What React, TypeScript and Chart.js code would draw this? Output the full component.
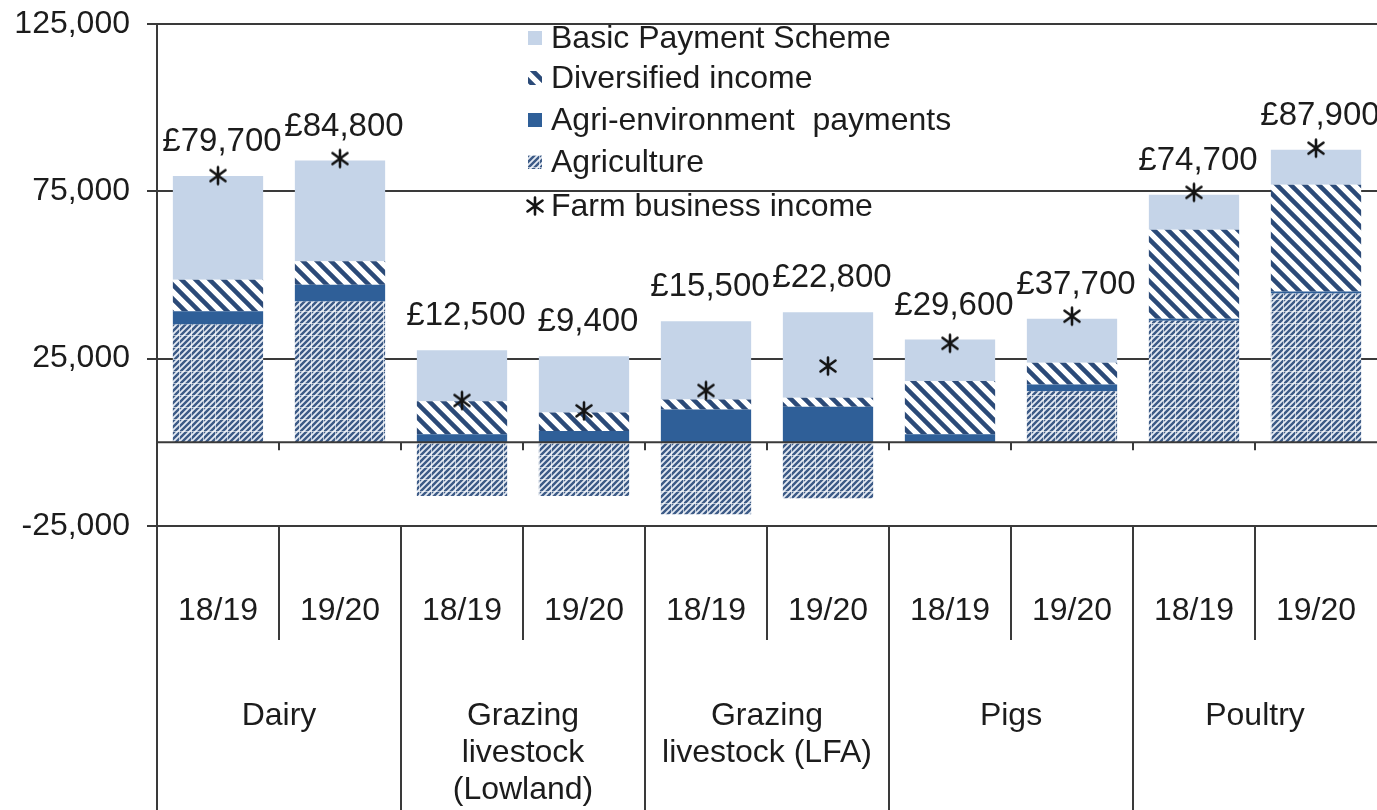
import React, { useEffect, useRef } from "react";
import { Chart, registerables } from "chart.js";

Chart.register(...registerables);

// ---- Data ----
const categories = [
  "Dairy 18/19", "Dairy 19/20",
  "Lowland 18/19", "Lowland 19/20",
  "LFA 18/19", "LFA 19/20",
  "Pigs 18/19", "Pigs 19/20",
  "Poultry 18/19", "Poultry 19/20",
];
const periodLabels = ["18/19", "19/20", "18/19", "19/20", "18/19", "19/20", "18/19", "19/20", "18/19", "19/20"];
const groupLabels: string[][] = [
  ["Dairy"],
  ["Grazing", "livestock", "(Lowland)"],
  ["Grazing", "livestock (LFA)"],
  ["Pigs"],
  ["Poultry"],
];

const agriculture = [35200, 42100, -16000, -16000, -21500, -16700, 0, 15300, 36300, 44500];
const agriEnvironment = [4000, 5000, 2400, 3400, 9800, 10600, 2400, 2000, 600, 600];
const diversified = [9400, 7000, 9900, 5500, 3000, 2700, 15900, 6500, 26600, 31900];
const basicPayment = [31000, 30100, 15200, 16800, 23400, 25600, 12400, 13100, 10500, 10400];
const farmBusinessIncome = [79700, 84800, 12500, 9400, 15500, 22800, 29600, 37700, 74700, 87900];

const legendLabels = [
  "Basic Payment Scheme",
  "Diversified income",
  "Agri-environment  payments",
  "Agriculture",
  "Farm business income",
];

const yMin = -25000;
const yMax = 125000;
const yStep = 50000;

// ---- Styles ----
const FONT = "'Liberation Sans', Arial, sans-serif";
const TEXT = "#1c1c1c";
const LINE = "#3a3a3a";
const BPS_COLOR = "#c5d4e8";
const AE_COLOR = "#2f5f98";

function makePatterns() {
  const mk = (w: number, h: number, draw: (c: CanvasRenderingContext2D) => void) => {
    const cv = document.createElement("canvas");
    cv.width = w;
    cv.height = h;
    const c = cv.getContext("2d")!;
    draw(c);
    return cv;
  };
  // Diversified: thick "\" stripes on white
  const divTile = mk(14, 14, (c) => {
    c.fillStyle = "#ffffff";
    c.fillRect(0, 0, 14, 14);
    c.strokeStyle = "#2b4a78";
    c.lineWidth = 4.5;
    c.beginPath();
    for (let k = -1; k <= 1; k++) {
      c.moveTo(k * 14 - 2, -2);
      c.lineTo(k * 14 + 16, 16);
    }
    c.stroke();
  });
  // Agriculture: fine "/" hatch broken by a faint white grid
  const agTile = mk(12, 12, (c) => {
    c.fillStyle = "#e3e9f2";
    c.fillRect(0, 0, 12, 12);
    c.strokeStyle = "#3c5a86";
    c.lineWidth = 2.4;
    c.beginPath();
    for (let k = -2; k <= 2; k++) {
      c.moveTo(k * 6 - 2, 14);
      c.lineTo(k * 6 + 14, -2);
    }
    c.stroke();
    c.fillStyle = "rgba(255,255,255,0.6)";
    c.fillRect(0, 11, 12, 1);
    c.fillRect(11, 0, 1, 12);
  });
  const star = mk(22, 22, (c) => {
    c.strokeStyle = "#141414";
    c.lineWidth = 2.6;
    c.lineCap = "round";
    c.beginPath();
    c.moveTo(11, 2.5);
    c.lineTo(11, 19.5);
    c.moveTo(3.5, 5.5);
    c.lineTo(18.5, 16.5);
    c.moveTo(3.5, 16.5);
    c.lineTo(18.5, 5.5);
    c.stroke();
  });
  const tmp = document.createElement("canvas").getContext("2d")!;
  return {
    div: tmp.createPattern(divTile, "repeat")!,
    ag: tmp.createPattern(agTile, "repeat")!,
    star,
  };
}

export default function App() {
  const ref = useRef<HTMLCanvasElement | null>(null);

  useEffect(() => {
    if (!ref.current) return;
    const pats = makePatterns();

    const overlayPlugin = {
      id: "overlay",
      afterDatasetsDraw(chart: any) {
        const { ctx, chartArea, scales } = chart;
        const y0 = scales.y.getPixelForValue(0);
        const n = categories.length;
        const w = (chartArea.right - chartArea.left) / n;
        ctx.save();
        ctx.strokeStyle = LINE;
        ctx.lineWidth = 2;
        ctx.beginPath();
        ctx.moveTo(chartArea.left, y0);
        ctx.lineTo(chartArea.right, y0);
        for (let i = 1; i < n; i++) {
          const x = Math.round(chartArea.left + i * w);
          ctx.moveTo(x, y0);
          ctx.lineTo(x, y0 + 8);
        }
        ctx.stroke();

        // FBI value labels above each bar
        const meta = chart.getDatasetMeta(3);
        ctx.fillStyle = TEXT;
        ctx.font = `33px ${FONT}`;
        ctx.textAlign = "center";
        ctx.textBaseline = "middle";
        meta.data.forEach((bar: any, i: number) => {
          ctx.fillText("£" + farmBusinessIncome[i].toLocaleString("en-GB"), bar.x + 4, bar.y - 34);
        });
        ctx.restore();
      },
      afterDraw(chart: any) {
        const { ctx, chartArea } = chart;
        const H = chart.height;
        const n = categories.length;
        const w = (chartArea.right - chartArea.left) / n;
        const top = chartArea.bottom;
        ctx.save();
        ctx.strokeStyle = LINE;
        ctx.lineWidth = 2;
        ctx.beginPath();
        ctx.moveTo(chartArea.left, chartArea.top);
        ctx.lineTo(chartArea.left, H);
        for (let i = 1; i < n; i++) {
          const x = Math.round(chartArea.left + i * w);
          ctx.moveTo(x, top);
          ctx.lineTo(x, i % 2 === 0 ? H : top + 114);
        }
        ctx.stroke();

        ctx.fillStyle = TEXT;
        ctx.textAlign = "center";
        ctx.textBaseline = "middle";
        ctx.font = `32px ${FONT}`;
        periodLabels.forEach((p, i) => {
          ctx.fillText(p, chartArea.left + (i + 0.5) * w, top + 85);
        });
        groupLabels.forEach((lines, g) => {
          const cx = chartArea.left + (g * 2 + 1) * w;
          lines.forEach((ln, k) => ctx.fillText(ln, cx, top + 190 + k * 37));
        });

        // Legend
        const lx = chartArea.left + 371;
        const tx = chartArea.left + 394;
        const rows = [38, 78, 120, 162, 206];
        ctx.font = `32px ${FONT}`;
        ctx.textAlign = "left";
        const fills: any[] = [BPS_COLOR, pats.div, AE_COLOR, pats.ag];
        legendLabels.forEach((lab, i) => {
          const cy = rows[i];
          if (i < 4) {
            ctx.fillStyle = fills[i];
            ctx.fillRect(lx, cy - 7, 14, 14);
          } else {
            ctx.drawImage(pats.star, lx - 4, cy - 11, 22, 22);
          }
          ctx.fillStyle = TEXT;
          ctx.fillText(lab, tx, cy + 1);
        });
        ctx.restore();
      },
    };

    const barCommon = { order: 1, barPercentage: 0.74, categoryPercentage: 1, borderWidth: 0, yAxisID: "y" };

    const chart = new Chart(ref.current, {
      type: "bar",
      data: {
        labels: categories,
        datasets: [
          { ...barCommon, label: legendLabels[3], data: agriculture, backgroundColor: pats.ag },
          { ...barCommon, label: legendLabels[2], data: agriEnvironment, backgroundColor: AE_COLOR },
          { ...barCommon, label: legendLabels[1], data: diversified, backgroundColor: pats.div },
          { ...barCommon, label: legendLabels[0], data: basicPayment, backgroundColor: BPS_COLOR },
          {
            type: "line",
            order: 0,
            label: legendLabels[4],
            data: farmBusinessIncome,
            yAxisID: "y2",
            showLine: false,
            pointStyle: pats.star as any,
            pointRadius: 11,
            pointHoverRadius: 11,
          } as any,
        ],
      },
      options: {
        animation: false,
        responsive: false,
        events: [],
        layout: { autoPadding: false, padding: { top: 24, bottom: 284, left: 0, right: 0 } },
        plugins: { legend: { display: false }, tooltip: { enabled: false } },
        scales: {
          x: { stacked: true, display: false },
          y: {
            stacked: true,
            min: yMin,
            max: yMax,
            afterFit: (s: any) => {
              s.width = 157;
              s.paddingTop = 0;
              s.paddingBottom = 0;
            },
            ticks: {
              stepSize: yStep,
              padding: 17,
              color: TEXT,
              font: { family: FONT, size: 32 },
              callback: (v: any) => Number(v).toLocaleString("en-GB"),
            },
            grid: { color: LINE, lineWidth: 2, tickLength: 10, drawTicks: true },
            border: { color: LINE, width: 2 },
          },
          y2: {
            display: false,
            min: yMin,
            max: yMax,
            stacked: false,
            afterFit: (s: any) => {
              s.paddingTop = 0;
              s.paddingBottom = 0;
            },
          },
        },
      },
      plugins: [overlayPlugin],
    });
    return () => chart.destroy();
  }, []);

  return (
    <div style={{ position: "fixed", left: 0, top: 0, width: 1377, height: 810, background: "#fff" }}>
      <canvas ref={ref} width={1377} height={810} />
    </div>
  );
}
